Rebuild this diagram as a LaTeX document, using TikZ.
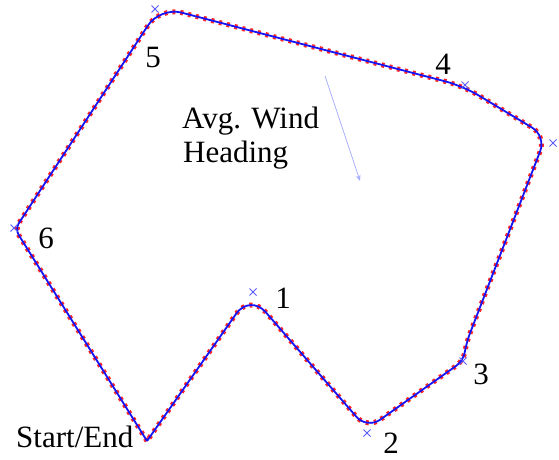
\documentclass[tikz,border=0pt]{standalone}
\usepackage{fontspec}
\setmainfont{Liberation Serif}
\usetikzlibrary{arrows.meta,calc}
\definecolor{trackblue}{RGB}{20,20,245}
\definecolor{markblue}{RGB}{90,90,255}
\definecolor{windblue}{RGB}{170,175,255}
\tikzset{
  lbl/.style={font=\fontsize{31}{36}\selectfont, inner sep=0pt},
  wpmark/.style={markblue, line width=0.8pt},
  reddots/.style={red!85!white, line width=5pt, dash pattern=on 3pt off 5pt},
  bluetrack/.style={trackblue, line width=1.8pt},
}
\newcommand{\wpx}[1]{\draw[wpmark] ($(#1)+(-3.5,-3.5)$) -- ($(#1)+(3.5,3.5)$) ($(#1)+(-3.5,3.5)$) -- ($(#1)+(3.5,-3.5)$);}
\newcommand{\trackpath}{(S) [rounded corners=7pt] -- (c6) [rounded corners=22pt] -- (c5) [rounded corners=18pt] -- (c4) [rounded corners=16pt] -- (c4b) [rounded corners=8pt] -- (c3a) -- (c3) [rounded corners=16pt] -- (c2) [rounded corners=24pt] -- (c1) [sharp corners] -- (S)}
\begin{document}
\begin{tikzpicture}[x=1pt,y=-1pt]
\useasboundingbox (0,0) rectangle (559,460);
% path corners
\coordinate (S) at (147,441);
\coordinate (c6) at (15,229);
\coordinate (c5) at (160,7);
\coordinate (c4) at (463,86);
\coordinate (c4b) at (546,136);
\coordinate (c3a) at (467,341);
\coordinate (c3) at (463,361);
\coordinate (c2) at (367,429);
\coordinate (c1) at (250,294);
% track
\draw[reddots] \trackpath;
\draw[bluetrack] \trackpath;
% waypoint markers
\coordinate (w5) at (155,9);
\coordinate (w6) at (14,228);
\coordinate (w4) at (465,85);
\coordinate (w4b) at (553,143);
\coordinate (w3) at (463,361);
\coordinate (w2) at (367,433);
\coordinate (w1) at (253,292);
\wpx{w5}\wpx{w6}\wpx{w4}\wpx{w4b}\wpx{w3}\wpx{w2}\wpx{w1}
% labels
\node[lbl] (l1) at (283,298) {1};
\node[lbl] (l2) at (391,443) {2};
\node[lbl] (l3) at (481,374) {3};
\node[lbl] (l4) at (443,64) {4};
\node[lbl] (l5) at (153,58) {5};
\node[lbl] (l6) at (46,238) {6};
\node[lbl, anchor=base west] (se) at (16,447) {Start/End};
\node[lbl, anchor=base west] (wa) at (182,128) {Avg. Wind};
\node[lbl, anchor=base west] (wb) at (183,162) {Heading};
% wind arrow
\coordinate (wt) at (325,76);
\coordinate (wh) at (360,181);
\draw[windblue, line width=0.8pt, -{Stealth[length=6pt,width=5pt]}] (wt) -- (wh);
\end{tikzpicture}
\end{document}
